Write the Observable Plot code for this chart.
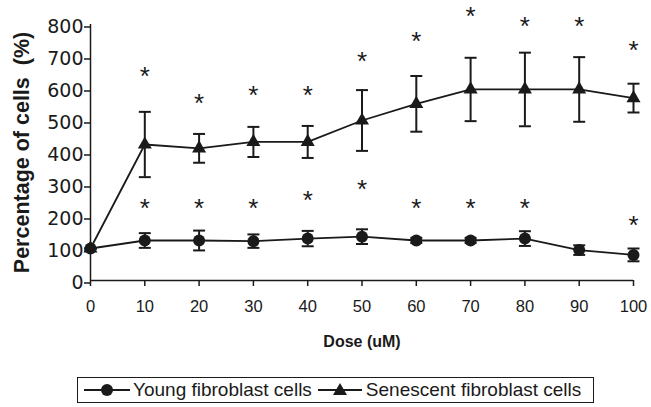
<!DOCTYPE html>
<html>
<head>
<meta charset="utf-8">
<script src="https://cdn.jsdelivr.net/npm/d3@7"></script>
<script src="https://cdn.jsdelivr.net/npm/@observablehq/plot@0.6"></script>
<style>
  html, body { margin: 0; padding: 0; background: #fff; }
  #chart svg { display: block; }
  g[aria-label="y-axis tick label"] { font-family: "DejaVu Sans", sans-serif; font-size: 19px; }
  g[aria-label="x-axis tick label"] { font-family: "Liberation Sans Narrow", "Liberation Sans", Arial, sans-serif; font-size: 16.5px; }
  g[aria-label="y-axis label"] { font-family: "Liberation Sans", Arial, sans-serif; font-size: 21.5px; font-weight: bold; }
  g[aria-label="x-axis label"] { font-family: "Liberation Sans", Arial, sans-serif; font-size: 16px; font-weight: bold; }
  #legend {
    margin-left: 77px; width: 517px; height: 26px; box-sizing: border-box;
    border: 1px solid #1a1a1a; display: flex; align-items: center;
    font-family: "Liberation Sans", Arial, sans-serif; font-size: 19px; color: #1a1a1a;
    white-space: nowrap;
  }
  #legend svg { display: block; }
</style>
</head>
<body>
<div id="chart"></div>
<div id="legend"></div>
<script>
// ---- data ----
const doses = [0, 10, 20, 30, 40, 50, 60, 70, 80, 90, 100];
const young = [100, 125, 125, 123, 131, 137, 125, 125, 131, 95, 80];
const youngErr = [0, 23, 31, 21, 24, 23, 8, 8, 23, 15, 20];
const senescent = [100, 425, 413, 433, 433, 500, 552, 597, 597, 597, 570];
const senescentErr = [0, 102, 45, 47, 50, 95, 87, 99, 115, 101, 45];
const youngStar = [null, 237, 237, 237, 263, 297, 237, 237, 237, null, 185];
const senescentStar = [null, 649, 566, 589, 589, 697, 758, 837, 805, 805, 732];
const yTicks = [0, 100, 200, 300, 400, 500, 600, 700, 800];
const xTicks = [0, 10, 20, 30, 40, 50, 60, 70, 80, 90, 100];
const seriesNames = ["Young fibroblast cells", "Senescent fibroblast cells"];

const ink = "#1a1a1a";

const yData = doses.map((d, i) => ({dose: d, v: young[i], lo: young[i] - youngErr[i], hi: young[i] + youngErr[i], star: youngStar[i]}));
const sData = doses.map((d, i) => ({dose: d, v: senescent[i], lo: senescent[i] - senescentErr[i], hi: senescent[i] + senescentErr[i], star: senescentStar[i]}));

// horizontal cap symbol for error bars
const capSymbol = {
  draw(context, size) {
    const w = Math.sqrt(size) * 0.75;
    context.moveTo(-w, 0);
    context.lineTo(w, 0);
  }
};

const errMarks = (data) => [
  Plot.ruleX(data, {x: "dose", y1: "lo", y2: "hi", stroke: ink, strokeWidth: 2}),
  Plot.dot(data, {x: "dose", y: "hi", symbol: capSymbol, r: 4.5, stroke: ink, strokeWidth: 2, fill: "none"}),
  Plot.dot(data, {x: "dose", y: "lo", symbol: capSymbol, r: 4.5, stroke: ink, strokeWidth: 2, fill: "none"})
];

const starMarks = (data) => Plot.text(data.filter(d => d.star != null), {
  x: "dose", y: "star", text: () => "*",
  fontFamily: "Liberation Sans, Arial, sans-serif", fontSize: 26, fill: ink, dy: 4
});

const chart = Plot.plot({
  width: 651,
  height: 377,
  marginLeft: 90,
  marginRight: 18,
  marginTop: 24,
  marginBottom: 97,
  style: {background: "#fff", color: ink},
  x: {domain: [0, 100]},
  y: {domain: [0, 800]},
  marks: [
    Plot.axisY({ticks: yTicks, tickSize: 6, tickPadding: 1, tickFormat: d3.format("d"), label: "Percentage of cells  (%)", labelAnchor: "center", labelArrow: "none", labelOffset: 77, stroke: ink, strokeWidth: 1.5, dy: 2.5}),
    Plot.axisX({ticks: xTicks, tickSize: 6, tickPadding: 14, tickFormat: d3.format("d"), label: "Dose (uM)", labelAnchor: "center", labelArrow: "none", labelOffset: 66, stroke: ink, strokeWidth: 1.5}),
    Plot.ruleX([0], {stroke: ink, strokeWidth: 1.5}),
    Plot.ruleY([0], {stroke: ink, strokeWidth: 1.5}),
    ...errMarks(yData),
    ...errMarks(sData),
    Plot.line(yData, {x: "dose", y: "v", stroke: ink, strokeWidth: 1.8}),
    Plot.line(sData, {x: "dose", y: "v", stroke: ink, strokeWidth: 1.8}),
    Plot.dot(yData, {x: "dose", y: "v", symbol: "circle", r: 6, fill: ink}),
    Plot.dot(sData, {x: "dose", y: "v", symbol: "triangle", r: 5.2, fill: ink}),
    starMarks(yData),
    starMarks(sData)
  ]
});
document.getElementById("chart").appendChild(chart);

// ---- legend ----
const legend = document.getElementById("legend");
function swatch(kind, w, ml) {
  const ns = "http://www.w3.org/2000/svg";
  const s = document.createElementNS(ns, "svg");
  s.setAttribute("width", w); s.setAttribute("height", 20);
  s.style.marginLeft = ml + "px";
  const l = document.createElementNS(ns, "line");
  l.setAttribute("x1", 0); l.setAttribute("x2", w); l.setAttribute("y1", 10); l.setAttribute("y2", 10);
  l.setAttribute("stroke", ink); l.setAttribute("stroke-width", 1.8);
  s.appendChild(l);
  const p = document.createElementNS(ns, "path");
  const sym = kind === "circle" ? d3.symbolCircle : d3.symbolTriangle;
  const size = kind === "circle" ? Math.PI * 36 : Math.PI * 5.2 * 5.2;
  p.setAttribute("d", d3.symbol(sym, size)());
  p.setAttribute("transform", `translate(${w / 2},${kind === "circle" ? 10 : 11})`);
  p.setAttribute("fill", ink);
  s.appendChild(p);
  return s;
}
function label(t, ml) {
  const sp = document.createElement("span");
  sp.textContent = t; sp.style.marginLeft = ml + "px";
  return sp;
}
legend.appendChild(swatch("circle", 46, 6));
legend.appendChild(label(seriesNames[0], 3));
legend.appendChild(swatch("triangle", 44, 6));
legend.appendChild(label(seriesNames[1], 4));
</script>
</body>
</html>
